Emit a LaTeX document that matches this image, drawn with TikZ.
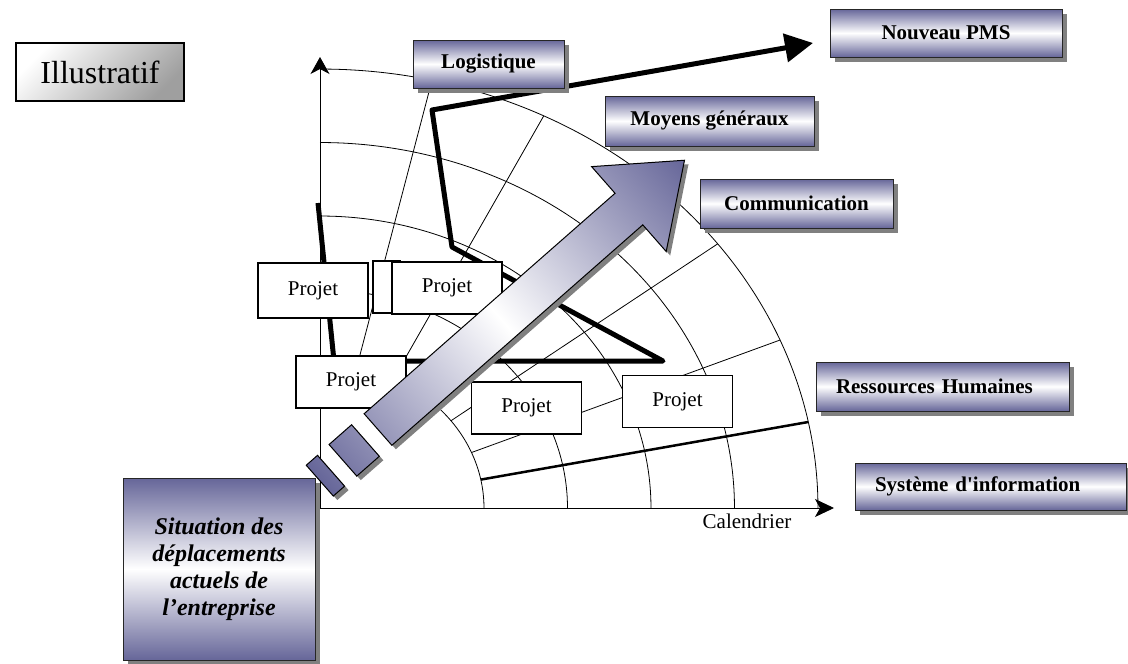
\documentclass[tikz,border=0pt]{standalone}
\usepackage{fontspec}
\newfontfamily\lib{Liberation Serif}
\usetikzlibrary{arrows.meta,shadows}
\definecolor{purp}{RGB}{102,102,153}
\definecolor{shgray}{RGB}{128,128,128}
\begin{document}
\begin{tikzpicture}[x=1pt,y=-1pt,
  lab/.style={draw=black!85, line width=0.9pt, top color=purp, bottom color=purp, middle color=white,
    font=\lib\fontsize{21}{24}\selectfont\bfseries, inner sep=0pt,
    drop shadow={shadow xshift=5pt, shadow yshift=-5pt, fill=shgray, opacity=1}},
  proj/.style={draw=black, line width=1.2pt, fill=white, font=\lib\fontsize{21}{24}\selectfont,
    inner sep=0pt, minimum width=110pt, minimum height=52pt},
  gridline/.style={line width=0.8pt},
  axisline/.style={line width=0.9pt},
  pathline/.style={line width=5pt, line join=round},
  arrowpath/.style={insert path={(0,-21) -- (334,-21) -- (334,-56.5) -- (408,0) -- (334,56.5) -- (334,21) -- (0,21) -- cycle
     (-46.7,-21) rectangle (-16.7,21) (-77.5,-20.5) rectangle (-62.5,20.5)}}
]
\useasboundingbox (0,0) rectangle (1128,664);

% elliptical grid
\foreach \k in {0,...,4}{
  \pgfmathsetmacro\rx{164+83.5*\k}
  \pgfmathsetmacro\ry{145+73.5*\k}
  \draw[gridline] plot[domain=0:90, samples=60, smooth] ({320+\rx*cos(\x)},{508-\ry*sin(\x)});
}
\foreach \t in {77,63.3,50,37,22.5}{
  \draw[gridline] ({320+164*cos(\t)},{508-145*sin(\t)}) -- ({320+498*cos(\t)},{508-439*sin(\t)});
}
\draw[line width=2.5pt] ({320+164*cos(11.3)},{508-145*sin(11.3)}) -- ({320+498*cos(11.3)},{508-439*sin(11.3)});

% axes
\coordinate (O) at (320,508);
\coordinate (ytip) at (320,57);
\coordinate (xtip) at (834,508);
\draw[axisline, -{Stealth[length=17pt,width=19pt,inset=5pt]}] (O) -- (ytip);
\draw[axisline, -{Stealth[length=19pt,width=18pt,inset=5pt]}] (O) -- (xtip);
\node[font=\lib\fontsize{21}{24}\selectfont] (cal) at (747,521) {Calendrier};

% thick trajectory
\coordinate (p0) at (318,203);
\coordinate (p1) at (334,361);
\coordinate (p2) at (663,361);
\coordinate (p3) at (452,247);
\coordinate (p4) at (432,110);
\coordinate (p5) at (813,43);
\draw[pathline, -{Triangle[length=28pt,width=28pt]}] (p0) -- (p1) -- (p2) -- (p3) -- (p4) -- (p5);

% project boxes
\node[proj, minimum height=55pt] (pj1) at (313,290.5) {Projet};
\node[draw=black, line width=1.2pt, fill=white, minimum width=27pt, minimum height=52pt, inner sep=0pt] (pj2b) at (386.5,287) {};
\node[proj] (pj2) at (447,288) {Projet};
\node[proj] (pj3) at (351,382) {Projet};
\node[proj] (pj4) at (526.5,408) {Projet};
\node[proj] (pj5) at (677.5,401.5) {Projet};

% big arrow: shadow then shaded body
\begin{scope}[transform canvas={shift={(382,433.5)},rotate=41.3}]
  \fill[shgray, arrowpath];
\end{scope}
\begin{scope}[transform canvas={shift={(378,429.5)},rotate=41.3}]
  \shade[draw=black, line width=1pt, left color=purp, right color=purp, middle color=white, arrowpath];
\end{scope}

% label boxes
\node[lab, minimum width=151pt, minimum height=48pt] (logi) at (488.5,64) {Logistique};
\node[lab, minimum width=232pt, minimum height=48pt] (pms) at (946,33) {Nouveau PMS};
\node[lab, minimum width=209pt, minimum height=50pt] (moy) at (709.5,121) {Moyens généraux};
\node[lab, minimum width=193pt, minimum height=49pt] (com) at (796.5,203.5) {Communication};
\node[lab, minimum width=253pt, minimum height=49pt, text width=213pt, inner xsep=20pt, align=left] (rh) at (942.5,386.5) {Ressources Humaines};
\node[lab, minimum width=271pt, minimum height=47pt, text width=231pt, inner xsep=20pt, align=left] (si) at (990.5,486.5) {Système d'information};
\node[lab, minimum width=192pt, minimum height=182pt, align=center,
  font=\lib\fontsize{24}{27}\selectfont\bfseries\itshape] (sit) at (219,569)
  {Situation des\\déplacements\\actuels de\\l’entreprise};

% illustratif
\node[draw=black, line width=1.2pt, top color=white, bottom color=gray!75, shading angle=45,
  minimum width=168pt, minimum height=58pt, inner sep=0pt,
  font=\lib\fontsize{32}{36}\selectfont] (ill) at (100,72) {Illustratif};
\end{tikzpicture}
\end{document}
